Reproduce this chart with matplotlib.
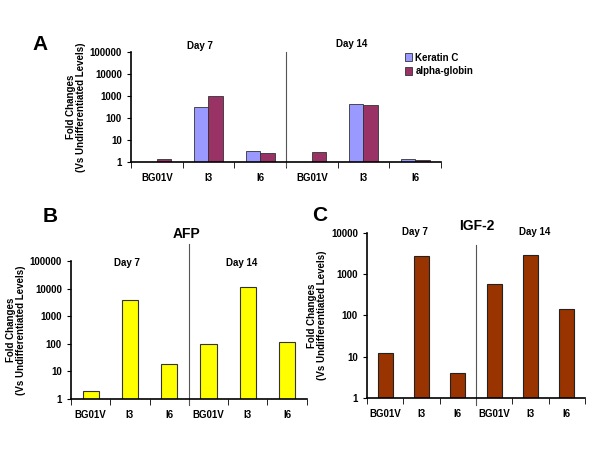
import matplotlib
matplotlib.use('Agg')
import matplotlib.pyplot as plt
import numpy as np
from matplotlib.ticker import FixedLocator, FuncFormatter

plt.rcParams['font.family'] = ['Liberation Sans', 'DejaVu Sans']
plt.rcParams['font.weight'] = 'bold'

categories = ['BG01V', 'I3', 'I6', 'BG01V', 'I3', 'I6']
day_labels = ['Day 7', 'Day 14']

# panel A (two series)
keratin_c = [1.0, 316, 3.2, 1.0, 414, 1.36]
alpha_globin = [1.36, 1000, 2.5, 2.9, 372, 1.2]
# panel B
afp = [2, 4000, 19, 95, 11000, 115]
# panel C
igf2 = [12, 2800, 4, 580, 3000, 140]

KERATIN_COLOR = '#9999FF'
GLOBIN_COLOR = '#993366'
AFP_COLOR = '#FFFF00'
IGF_COLOR = '#993300'
YLABEL = 'Fold Changes\n(Vs Undifferentiated Levels)'
FS = 7


def style_axis(ax, ymax, divider_top=1.0):
    ax.set_yscale('log')
    ax.set_ylim(1, ymax)
    ax.set_xlim(0, len(categories))
    decades = [10 ** k for k in range(int(np.log10(ymax)) + 1)]
    ax.yaxis.set_major_locator(FixedLocator(decades))
    ax.yaxis.set_minor_locator(FixedLocator([]))
    ax.yaxis.set_major_formatter(FuncFormatter(lambda v, p: f'{int(round(v))}'))
    ax.set_xticks(np.arange(len(categories)) + 0.5)
    ax.set_xticklabels(categories)
    ax.set_xticks(np.arange(len(categories) + 1), minor=True)
    ax.tick_params(axis='x', which='major', length=0, pad=8, labelsize=FS)
    ax.tick_params(axis='x', which='minor', length=4, direction='out')
    ax.tick_params(axis='y', labelsize=FS, length=3)
    for s in ('top', 'right'):
        ax.spines[s].set_visible(False)
    ax.spines['left'].set_linewidth(1.2)
    ax.spines['bottom'].set_linewidth(1.2)
    ax.axvline(3, ymin=-0.04, ymax=divider_top, color='#555555', lw=0.8, clip_on=False)
    ax.set_ylabel(YLABEL, fontsize=FS, fontweight='bold', labelpad=3, linespacing=1.0)


fig = plt.figure(figsize=(6, 4.5), dpi=100)
x = np.arange(len(categories)) + 0.5

# --- A ---
axA = fig.add_axes([0.2183, 0.64, 0.5167, 0.2444])
w = 0.28
axA.bar(x - w / 2, keratin_c, w, color=KERATIN_COLOR, edgecolor='#333333', lw=0.6, label='Keratin C')
axA.bar(x + w / 2, alpha_globin, w, color=GLOBIN_COLOR, edgecolor='#333333', lw=0.6, label='alpha-globin')
style_axis(axA, 1e5)
axA.text(0.223, 1.027, day_labels[0], transform=axA.transAxes, ha='center', fontsize=FS)
axA.text(0.713, 1.045, day_labels[1], transform=axA.transAxes, ha='center', fontsize=FS)
axA.legend(loc='upper left', bbox_to_anchor=(0.87, 1.03), frameon=False, fontsize=FS,
           handlelength=0.8, handleheight=0.9, handletextpad=0.3, labelspacing=0.4,
           borderaxespad=0)

# --- B ---
axB = fig.add_axes([0.1183, 0.1133, 0.393, 0.3067])
axB.bar(x, afp, 0.41, color=AFP_COLOR, edgecolor='#333333', lw=0.8)
style_axis(axB, 1e5, divider_top=1.12)
axB.text(0.237, 0.964, day_labels[0], transform=axB.transAxes, ha='center', fontsize=FS)
axB.text(0.725, 0.964, day_labels[1], transform=axB.transAxes, ha='center', fontsize=FS)
axB.text(0.49, 1.17, 'AFP', transform=axB.transAxes, ha='center', fontsize=10, fontweight='bold')

# --- C ---
axC = fig.add_axes([0.6117, 0.1156, 0.363, 0.3667])
axC.bar(x, igf2, 0.41, color=IGF_COLOR, edgecolor='#222222', lw=0.8)
style_axis(axC, 1e4, divider_top=0.93)
axC.text(0.22, 0.985, day_labels[0], transform=axC.transAxes, ha='center', fontsize=FS)
axC.text(0.77, 0.985, day_labels[1], transform=axC.transAxes, ha='center', fontsize=FS)
axC.text(0.505, 1.02, 'IGF-2', transform=axC.transAxes, ha='center', fontsize=10, fontweight='bold')

fig.text(0.067, 0.9, 'A', fontsize=15, fontweight='bold', ha='center', va='center')
fig.text(0.083, 0.518, 'B', fontsize=15, fontweight='bold', ha='center', va='center')
fig.text(0.533, 0.522, 'C', fontsize=15, fontweight='bold', ha='center', va='center')

fig.savefig('out.png', dpi=100)
